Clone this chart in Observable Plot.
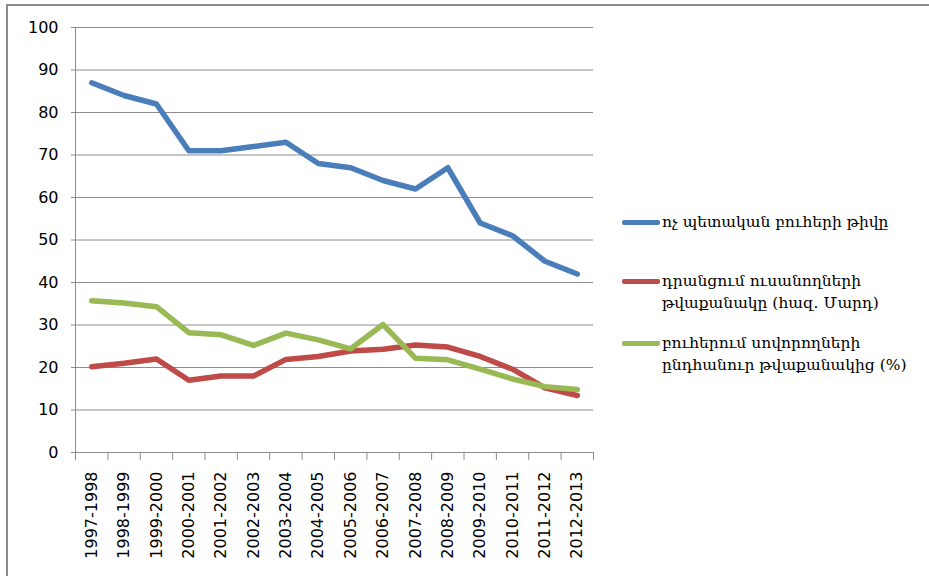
<!DOCTYPE html>
<html>
<head>
<meta charset="utf-8">
<script src="https://cdn.jsdelivr.net/npm/d3@7"></script>
<script src="https://cdn.jsdelivr.net/npm/@observablehq/plot@0.6"></script>
<style>
  html, body { margin: 0; padding: 0; background: #fff; }
  #wrap { position: relative; width: 929px; height: 576px; overflow: hidden; }
  #frame { position: absolute; left: 6px; top: 4px; width: 1000px; height: 700px;
           border-top: 2px solid #8c8c8c; border-left: 2px solid #8c8c8c; pointer-events: none; }
  #legend { position: absolute; left: 622px; top: 0; font-family: "DejaVu Serif", serif; font-size: 15.5px; color: #000; }
  .item { position: absolute; left: 0; width: 310px; }
  .sw { position: absolute; left: 0; width: 38px; height: 5px; border-radius: 2px; }
  .tx { position: absolute; left: 40px; white-space: nowrap; line-height: 22px; }
</style>
</head>
<body>
<div id="wrap">
  <div id="chart"></div>
  <div id="frame"></div>
  <div id="legend"></div>
</div>
<script>
const years = ["1997-1998","1998-1999","1999-2000","2000-2001","2001-2002","2002-2003","2003-2004","2004-2005","2005-2006","2006-2007","2007-2008","2008-2009","2009-2010","2010-2011","2011-2012","2012-2013"];
const blueValues  = [87, 84, 82, 71, 71, 72, 73, 68, 67, 64, 62, 67, 54, 51, 45, 42];
const redValues   = [20.2, 21, 22, 17, 18, 18, 21.9, 22.6, 23.9, 24.3, 25.3, 24.8, 22.6, 19.6, 15.2, 13.4];
const greenValues = [35.7, 35.2, 34.3, 28.2, 27.7, 25.2, 28.1, 26.5, 24.4, 30.1, 22.2, 21.8, 19.6, 17.3, 15.5, 14.8];
const seriesNames = [
  "ոչ պետական բուհերի թիվը",
  "դրանցում ուսանողների\nթվաքանակը (հազ. Մարդ)",
  "բուհերում սովորողների\nընդհանուր թվաքանակից (%)"
];
const seriesColors = ["#4a7ebb", "#be4b48", "#98b954"];
const yTicks = d3.range(0, 101, 10);

const toRows = (vals, s) => vals.map((v, i) => ({i: i + 0.5, v, s}));
const rows = [
  ...toRows(blueValues, seriesNames[0]),
  ...toRows(redValues, seriesNames[1]),
  ...toRows(greenValues, seriesNames[2])
];

const chart = Plot.plot({
  width: 929,
  height: 576,
  marginLeft: 75,
  marginRight: 336,
  marginTop: 27,
  marginBottom: 124,
  style: {fontFamily: "DejaVu Sans, sans-serif", fontSize: "16px", color: "#000", background: "transparent"},
  x: {type: "linear", domain: [0, years.length]},
  y: {domain: [0, 100]},
  color: {domain: seriesNames, range: seriesColors},
  marks: [
    Plot.ruleY(yTicks.filter(d => d > 0), {stroke: "#8c8c8c", strokeWidth: 1}),
    Plot.ruleY([0], {stroke: "#8c8c8c", strokeWidth: 1}),
    Plot.ruleX([0], {stroke: "#8c8c8c", strokeWidth: 1}),
    Plot.axisY({ticks: yTicks, tickSize: 4, tickPadding: 13, stroke: "#8c8c8c", label: null, tickFormat: d => String(d)}),
    Plot.axisX({ticks: d3.range(0, years.length + 1), tickSize: 8, tickFormat: () => "", stroke: "#8c8c8c", label: null}),
    Plot.axisX({ticks: years.map((d, i) => i + 0.5), tickSize: 0, tickPadding: 19, tickRotate: -90,
                tickFormat: d => years[Math.floor(d)], label: null}),
    Plot.line(rows, {x: "i", y: "v", z: "s", stroke: "s", strokeWidth: 5.5, strokeLinejoin: "round", strokeLinecap: "round"})
  ]
});
document.getElementById("chart").appendChild(chart);

// legend
const legendTops = [222, 281, 343];
const legend = document.getElementById("legend");
seriesNames.forEach((name, k) => {
  const item = document.createElement("div");
  item.className = "item";
  item.style.top = legendTops[k] + "px";
  const sw = document.createElement("div");
  sw.className = "sw";
  sw.style.background = seriesColors[k];
  sw.style.top = "-2.5px";
  const tx = document.createElement("div");
  tx.className = "tx";
  tx.style.top = "-11px";
  tx.innerHTML = name.split("\n").join("<br>");
  item.appendChild(sw);
  item.appendChild(tx);
  legend.appendChild(item);
});
</script>
</body>
</html>
